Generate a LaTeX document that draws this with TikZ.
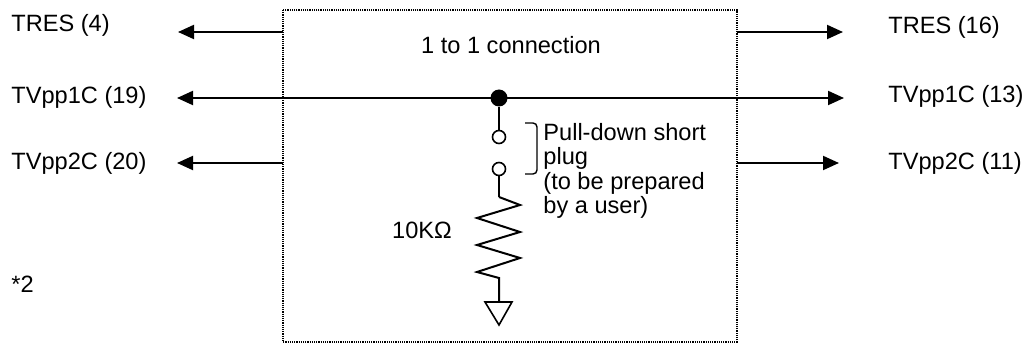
\documentclass[tikz,border=0pt]{standalone}
\usepackage{fontspec}
\setmainfont{Liberation Sans}
\usetikzlibrary{arrows.meta,positioning}
\tikzset
{
    pinlabel/.style = {anchor=west, inner sep=0pt, font=\fontsize{11.8}{12.25}\selectfont},
    wire/.style     = {line width=1pt},
    sigarrow/.style = {wire, -{Triangle[length=8pt,width=7pt]}},
    jackbox/.style  = {draw, line width=0.6pt, dash pattern=on 0.6pt off 0.5pt},
    plugpin/.style  = {circle, draw, line width=0.8pt, fill=white, inner sep=0pt, minimum size=6.5pt},
    junction/.style = {circle, fill=black, inner sep=0pt, minimum size=8.5pt}
}

\begin{document}
\begin{tikzpicture}[x=0.5pt, y=-0.5pt]
\useasboundingbox (0,0) rectangle (1034,352);

\draw[jackbox] (283,10) rectangle (737,342);
\node (title)[pinlabel, anchor=center] at (511,45) {1 to 1 connection};

% left side
\node (resl)[pinlabel] at (11,25)  {TRES (4)};
\node (vp1l)[pinlabel] at (11,97)  {TVpp1C (19)};
\node (vp2l)[pinlabel] at (11,163) {TVpp2C (20)};
% right side
\node (resr)[pinlabel] at (888,27)  {TRES (16)};
\node (vp1r)[pinlabel] at (888,96)  {TVpp1C (13)};
\node (vp2r)[pinlabel] at (888,163) {TVpp2C (11)};

\coordinate (resin)  at (283,32);
\coordinate (resout) at (737,32);
\coordinate (resltip) at (178,32);
\coordinate (resrtip) at (843,32);
\coordinate (vp1ltip) at (177,98);
\coordinate (vp1rtip) at (844,98);
\coordinate (vp2in)  at (283,163);
\coordinate (vp2out) at (737,163);
\coordinate (vp2ltip) at (177,163);
\coordinate (vp2rtip) at (839,163);

\draw[sigarrow] (resin)  -- (resltip);
\draw[sigarrow] (resout) -- (resrtip);
\draw[sigarrow] (vp2in)  -- (vp2ltip);
\draw[sigarrow] (vp2out) -- (vp2rtip);
\draw[wire, {Triangle[length=8pt,width=7pt]}-{Triangle[length=8pt,width=7pt]}] (vp1ltip) -- (vp1rtip);

% pull-down
\node (jn)[junction] at (499,98) {};
\node (pina)[plugpin] at (499,137) {};
\node (pinb)[plugpin] at (499,169) {};
\coordinate (rtop) at (499,197);
\coordinate (rbot) at (499,278);
\coordinate (gnd)  at (499,302);

\draw[wire] (jn) -- (pina);
\draw[wire] (pinb) -- (rtop);
\draw[wire] (rtop) -- (520,205) -- (477,218) -- (520,232) -- (477,245)
            -- (520,258) -- (477,272) -- (rbot) -- (gnd);
\draw[line width=0.8pt, line join=miter] (485,302) -- (512,302) -- (499,325) -- cycle;

\draw[line width=0.7pt, rounded corners=2pt] (525,123) -- (537,123) -- (537,174) -- (525,174);
\node (plug)[pinlabel, align=left] at (543,171)
    {Pull-down short\\plug\\(to be prepared\\by a user)};
\node (res)[pinlabel, anchor=center] at (422,230) {10K\symbol{"03A9}};

\node (note)[pinlabel] at (11,284) {*2};
\end{tikzpicture}
\end{document}
